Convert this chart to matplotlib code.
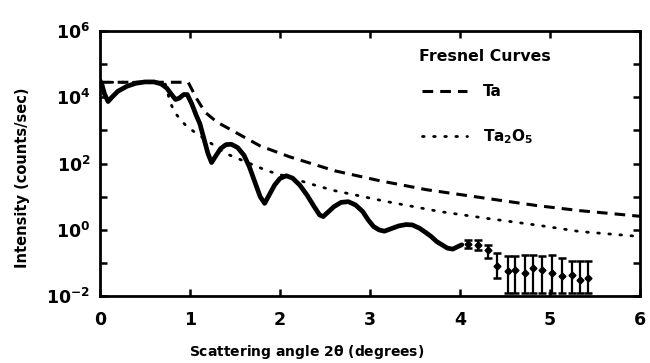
import numpy as np
import matplotlib
matplotlib.use("Agg")
import matplotlib.pyplot as plt
from matplotlib.lines import Line2D

# ---- data (log10 of intensity) ----
meas_x = [0.00, 0.02, 0.05, 0.09, 0.14, 0.20, 0.30, 0.40, 0.50, 0.60, 0.68, 0.74,
          0.79, 0.84, 0.88, 0.93, 0.97, 1.02, 1.07, 1.11, 1.16, 1.20, 1.24, 1.28,
          1.34, 1.40, 1.46, 1.53, 1.60, 1.66, 1.72, 1.78, 1.83, 1.88, 1.94, 2.00,
          2.07, 2.14, 2.22, 2.30, 2.38, 2.44, 2.48, 2.54, 2.60, 2.68, 2.76, 2.84,
          2.92, 2.98, 3.04, 3.10, 3.16, 3.24, 3.32, 3.40, 3.47, 3.55, 3.62, 3.68,
          3.74, 3.80, 3.86, 3.92, 3.98, 4.02]
meas_log = [4.50, 4.40, 4.10, 3.87, 4.02, 4.18, 4.33, 4.42, 4.46, 4.46, 4.40, 4.28,
            4.10, 3.93, 3.97, 4.08, 4.08, 3.80, 3.45, 3.20, 2.70, 2.30, 2.03, 2.20,
            2.45, 2.57, 2.58, 2.48, 2.25, 1.90, 1.45, 1.00, 0.80, 1.05, 1.35, 1.55,
            1.63, 1.56, 1.35, 1.05, 0.70, 0.45, 0.40, 0.55, 0.70, 0.83, 0.85, 0.75,
            0.55, 0.30, 0.10, 0.00, -0.04, 0.04, 0.12, 0.16, 0.15, 0.05, -0.08, -0.20,
            -0.35, -0.45, -0.55, -0.58, -0.50, -0.45]

# sparse points with error bars (log10 centre, top, bottom)
err_x = [4.09, 4.20, 4.31, 4.41, 4.53, 4.61, 4.72, 4.81, 4.91, 5.02, 5.13, 5.24, 5.33, 5.42]
err_c = [-0.42, -0.45, -0.60, -1.10, -1.25, -1.20, -1.30, -1.15, -1.20, -1.30, -1.40, -1.35, -1.50, -1.45]
err_top = [-0.30, -0.30, -0.45, -0.71, -0.80, -0.80, -0.77, -0.77, -0.80, -0.77, -0.86, -0.95, -0.95, -0.95]
err_bot = [-0.55, -0.60, -0.85, -1.45, -1.90, -1.90, -1.90, -1.90, -1.90, -1.90, -1.90, -1.90, -1.90, -1.90]

ta_x = [0.00, 0.98, 1.08, 1.17, 1.30, 1.48, 1.78, 2.11, 2.61, 3.11, 3.63, 4.32, 4.86, 5.33, 6.00]
ta_log = [4.45, 4.45, 3.93, 3.54, 3.25, 2.98, 2.53, 2.20, 1.78, 1.48, 1.21, 0.94, 0.73, 0.58, 0.41]

ta2o5_x = [0.00, 0.72, 0.78, 0.83, 0.91, 0.96, 1.05, 1.40, 1.86, 2.41, 2.61, 3.19, 3.78, 4.29, 4.89, 5.33, 6.00]
ta2o5_log = [4.45, 4.45, 3.85, 3.54, 3.28, 3.13, 2.95, 2.30, 1.78, 1.33, 1.18, 0.85, 0.55, 0.35, 0.13, -0.05, -0.20]

x_ticks = [0, 1, 2, 3, 4, 5, 6]
y_label_exps = [-2, 0, 2, 4, 6]
legend_title = "Fresnel Curves"
legend_labels = ["Ta", "Ta$_2$O$_5$"]

# ---- figure ----
plt.rcParams['font.family'] = ['DejaVu Sans']
plt.rcParams['font.weight'] = 'bold'
plt.rcParams['axes.labelweight'] = 'bold'
plt.rcParams['mathtext.default'] = 'bf'

fig = plt.figure(figsize=(6.5, 3.63), dpi=100)
ax = fig.add_axes([0.1538, 0.184, 0.8308, 0.731])

p = lambda v: 10 ** np.asarray(v, dtype=float)

DASH = (0, (3.5, 2.3))
DOT = (0, (0.6, 3.4))

ax.plot(ta_x, p(ta_log), color='black', lw=2.2, ls=DASH)
ax.plot(ta2o5_x, p(ta2o5_log), color='black', lw=2.0, ls=DOT, dash_capstyle='round')
ax.plot(meas_x, p(meas_log), color='black', lw=3.4, solid_capstyle='round',
        solid_joinstyle='round')

c = p(err_c)
ax.errorbar(err_x, c, yerr=[c - p(err_bot), p(err_top) - c], fmt='D', color='black',
            ms=3.5, elinewidth=1.6, capsize=3.0, capthick=1.8)

ax.set_yscale('log')
ax.set_xlim(0, 6)
ax.set_ylim(1e-2, 1e6)

ax.set_xticks(x_ticks)
ax.set_xticklabels([str(t) for t in x_ticks])
ax.set_yticks([10.0 ** e for e in range(-2, 7)])
ax.set_yticklabels([(r'$10^{%d}$' % e) if e in y_label_exps else '' for e in range(-2, 7)])
ax.yaxis.set_minor_locator(matplotlib.ticker.NullLocator())

ax.tick_params(axis='both', which='major', direction='in', length=5, width=1.8,
               top=True, right=True, labelsize=12.5)
ax.tick_params(axis='x', pad=11)
ax.tick_params(axis='y', pad=7)
for s in ax.spines.values():
    s.set_linewidth(2.0)

ax.set_xlabel(r'Scattering angle 2$\theta$ (degrees)', fontsize=10)
ax.set_ylabel('Intensity (counts/sec)', fontsize=10.5)
ax.xaxis.set_label_coords(0.383, -0.175)
ax.yaxis.set_label_coords(-0.13, 0.447)

handles = [Line2D([], [], color='black', lw=2.2, ls=DASH),
           Line2D([], [], color='black', lw=2.0, ls=DOT, dash_capstyle='round')]
ax.text(0.59, 0.905, legend_title, transform=ax.transAxes, fontsize=11.3,
        ha='left', va='center')
ax.legend(handles, legend_labels, loc='upper left', bbox_to_anchor=(0.57, 0.85),
          frameon=False, fontsize=11, handlelength=3.0, labelspacing=1.8,
          handletextpad=1.0)

fig.savefig('out.png', dpi=100)
